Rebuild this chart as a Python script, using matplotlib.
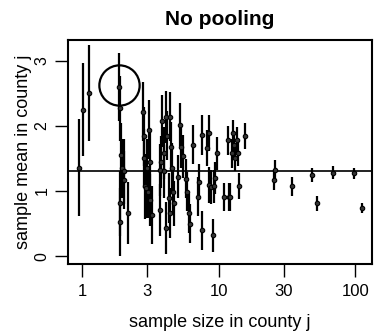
import matplotlib
matplotlib.use("Agg")
import matplotlib.pyplot as plt
import numpy as np

plt.rcParams['font.family'] = ['Liberation Sans', 'DejaVu Sans']

# jittered sample size per county
sample_size = [
    0.95, 1.02, 1.12,
    1.85, 1.89, 1.91, 1.89, 1.93, 1.96, 2.02, 2.04, 2.17,
    2.79, 2.83, 2.86, 2.89, 2.92, 2.99, 3.04, 3.09, 3.12, 3.15, 3.25,
    3.70, 3.74, 3.80, 3.87, 3.96, 4.00, 4.09, 4.14, 4.19, 4.31, 4.41, 4.43, 4.48, 4.56, 4.63, 4.69,
    5.04, 5.24, 5.30, 5.45, 5.77, 5.87, 6.07, 6.21, 6.49,
    7.02, 7.14, 7.51, 7.55, 8.22, 8.45, 8.55, 8.79, 9.09, 9.19, 9.45, 9.72,
    10.9, 11.7, 11.9, 12.2, 12.5, 12.7, 12.9, 13.2, 13.7, 13.9, 14.1, 15.7,
    25.5, 26.0, 34.6, 48.2, 52.5, 68.7, 97.2, 112.0,
]
# sample mean of log radon in county
sample_mean = [
    1.36, 2.25, 2.50,
    2.60, 2.27, 0.52, 0.81, 1.55, 1.35, 1.30, 1.17, 0.66,
    2.22, 1.84, 1.50, 1.07, 1.04, 1.35, 0.99, 1.94, 1.45, 0.86, 0.63,
    0.71, 1.32, 1.45, 2.07, 1.58, 1.30, 0.43, 2.14, 1.85, 0.89, 0.66, 2.14, 1.68, 1.35, 0.99, 0.81,
    1.22, 2.02, 1.68, 1.53, 1.19, 0.99, 0.66, 0.50, 1.71,
    0.91, 1.14, 1.86, 0.40, 1.66, 1.89, 1.09, 1.06, 0.32, 1.07, 1.20, 1.58,
    0.91, 1.78, 0.91, 0.91, 1.58, 1.89, 1.70, 1.50, 1.78, 1.58, 1.07, 1.84,
    1.17, 1.33, 1.07, 1.25, 0.81, 1.28, 1.27, 0.74,
]
# +/- 1 standard error
std_error = [
    0.75, 0.72, 0.74,
    0.52, 0.50, 0.52, 0.50, 0.50, 0.45, 0.50, 0.45, 0.48,
    0.45, 0.45, 0.45, 0.50, 0.45, 0.45, 0.40, 0.45, 0.45, 0.40, 0.45,
    0.40, 0.40, 0.40, 0.40, 0.40, 0.40, 0.40, 0.40, 0.38, 0.38, 0.38, 0.38, 0.38, 0.38, 0.35, 0.35,
    0.33, 0.33, 0.33, 0.33, 0.30, 0.30, 0.30, 0.30, 0.30,
    0.30, 0.28, 0.30, 0.30, 0.28, 0.28, 0.28, 0.26, 0.25, 0.25, 0.25, 0.25,
    0.22, 0.22, 0.22, 0.22, 0.22, 0.20, 0.20, 0.20, 0.20, 0.20, 0.20, 0.20,
    0.15, 0.15, 0.14, 0.11, 0.12, 0.10, 0.08, 0.08,
]
pooled_mean = 1.31
circled_n, circled_mean = 1.85, 2.62

x_ticks = [1, 3, 10, 30, 100]
y_ticks = [0, 1, 2, 3]

fig = plt.figure(figsize=(3.74, 3.35), dpi=100)
ax = fig.add_axes([0.182, 0.212, 0.813, 0.669])

ax.errorbar(sample_size, sample_mean, yerr=std_error, fmt='o', color='black',
            ms=3.2, mfc='#333333', mec='black', mew=0.8, elinewidth=1.6,
            capsize=0, zorder=3)
ax.axhline(pooled_mean, color='#222222', lw=1.4, zorder=2)
ax.plot([circled_n], [circled_mean], marker='o', ms=29, mfc='none',
        mec='black', mew=1.6, zorder=4)

ax.set_xscale('log')
ax.set_xlim(0.79, 133)
ax.set_ylim(-0.12, 3.32)
ax.set_xticks(x_ticks)
ax.set_xticklabels([str(t) for t in x_ticks])
ax.minorticks_off()
ax.set_yticks(y_ticks)
ax.set_yticklabels([str(t) for t in y_ticks], rotation=90, va='center')
ax.tick_params(direction='out', length=9.5, width=1.0)
ax.tick_params(axis='x', labelsize=12, pad=5)
ax.tick_params(axis='y', labelsize=11.5, pad=4)
for s in ax.spines.values():
    s.set_linewidth(1.5)

ax.set_xlabel('sample size in county j', fontsize=13, labelpad=11)
ax.set_ylabel('sample mean in county j', fontsize=13, labelpad=2)
ax.set_title('No pooling', fontsize=15, fontweight='bold', pad=11)

fig.savefig('out.png', dpi=100)
